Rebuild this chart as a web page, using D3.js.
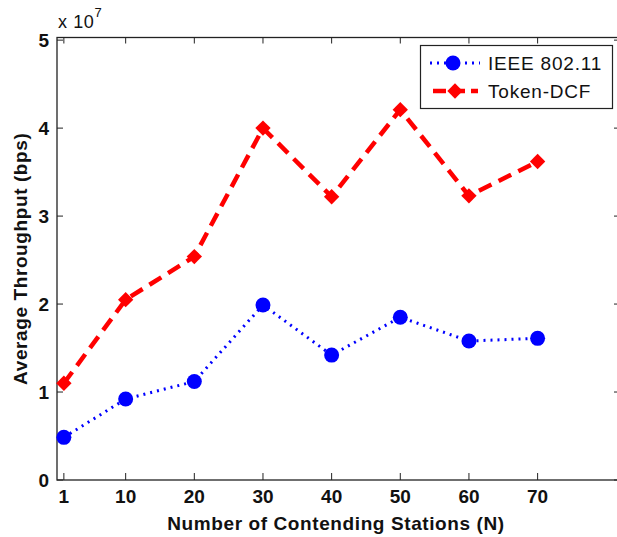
<!DOCTYPE html>
<html>
<head>
<meta charset="utf-8">
<script src="https://cdn.jsdelivr.net/npm/d3@7"></script>
<style>
  body { margin: 0; background: #fff; }
  text { font-family: "Liberation Sans", Arial, sans-serif; }
</style>
</head>
<body>
<script>
var stations = [1, 10, 20, 30, 40, 50, 60, 70];
var ieee = [0.485e7, 0.92e7, 1.12e7, 1.99e7, 1.42e7, 1.85e7, 1.58e7, 1.61e7];
var tokenDcf = [1.10e7, 2.05e7, 2.54e7, 4.00e7, 3.22e7, 4.21e7, 3.23e7, 3.62e7];
var xTicks = [1, 10, 20, 30, 40, 50, 60, 70];
var yTicks = [0, 1, 2, 3, 4, 5];

var width = 617, height = 537;
var box = {left: 57, right: 620, top: 37.5, bottom: 480};

var svg = d3.select("body").append("svg")
    .attr("width", width)
    .attr("height", height);

var x = d3.scaleLinear().domain([0, 82]).range([box.left, box.right]);
var y = d3.scaleLinear().domain([0, 5.03e7]).range([box.bottom, box.top]);

// box
svg.append("rect")
    .attr("x", box.left).attr("y", box.top)
    .attr("width", box.right - box.left).attr("height", box.bottom - box.top)
    .attr("fill", "none").attr("stroke", "#222").attr("stroke-width", 1.3);

// ticks (inward, mirrored)
xTicks.forEach(function(t) {
    svg.append("line").attr("x1", x(t)).attr("x2", x(t))
        .attr("y1", box.bottom).attr("y2", box.bottom - 7).attr("stroke", "#222");
    svg.append("line").attr("x1", x(t)).attr("x2", x(t))
        .attr("y1", box.top).attr("y2", box.top + 6).attr("stroke", "#222");
    svg.append("text").attr("x", x(t)).attr("y", 503)
        .attr("text-anchor", "middle").attr("font-size", 19).attr("font-weight", "bold")
        .attr("fill", "#111").text(t);
});
yTicks.forEach(function(t) {
    svg.append("line").attr("x1", box.left).attr("x2", box.left + 6)
        .attr("y1", y(t * 1e7)).attr("y2", y(t * 1e7)).attr("stroke", "#222");
    svg.append("line").attr("x1", box.right).attr("x2", box.right - 6)
        .attr("y1", y(t * 1e7)).attr("y2", y(t * 1e7)).attr("stroke", "#222");
    svg.append("text").attr("x", 49).attr("y", y(t * 1e7) + 7)
        .attr("text-anchor", "end").attr("font-size", 19).attr("font-weight", "bold")
        .attr("fill", "#111").text(t);
});

// exponent
var ex = svg.append("text").attr("x", 58).attr("y", 28)
    .attr("font-size", 18).attr("letter-spacing", 0.6).attr("fill", "#111");
ex.append("tspan").text("x 10");
ex.append("tspan").attr("dy", -11).attr("font-size", 13).text("7");

// axis labels
svg.append("text").attr("x", 336).attr("y", 530)
    .attr("text-anchor", "middle").attr("font-size", 19).attr("font-weight", "bold")
    .attr("letter-spacing", 0.6)
    .attr("fill", "#111").text("Number of Contending Stations (N)");
svg.append("text")
    .attr("transform", "translate(27," + ((box.top + box.bottom) / 2) + ") rotate(-90)")
    .attr("text-anchor", "middle").attr("font-size", 19).attr("font-weight", "bold")
    .attr("letter-spacing", 0.6)
    .attr("fill", "#111").text("Average Throughput (bps)");

var line = d3.line()
    .x(function(d) { return x(d[0]); })
    .y(function(d) { return y(d[1]); });

var blueData = d3.zip(stations, ieee);
var redData = d3.zip(stations, tokenDcf);

svg.append("path").datum(blueData).attr("d", line)
    .attr("fill", "none").attr("stroke", "#0000ff")
    .attr("stroke-width", 3).attr("stroke-dasharray", "2,5");
svg.selectAll(".dot").data(blueData).enter().append("circle")
    .attr("cx", function(d) { return x(d[0]); })
    .attr("cy", function(d) { return y(d[1]); })
    .attr("r", 7.5).attr("fill", "#0000ff");

svg.append("path").datum(redData).attr("d", line)
    .attr("fill", "none").attr("stroke", "#ff0000")
    .attr("stroke-width", 4.5).attr("stroke-dasharray", "14,8");
var diamond = d3.symbol().type(d3.symbolDiamond2).size(150);
svg.selectAll(".dia").data(redData).enter().append("path")
    .attr("d", diamond)
    .attr("transform", function(d) { return "translate(" + x(d[0]) + "," + y(d[1]) + ")"; })
    .attr("fill", "#ff0000");

// legend
var lg = svg.append("g");
lg.append("rect").attr("x", 420.5).attr("y", 45.5).attr("width", 192).attr("height", 63)
    .attr("fill", "#fff").attr("stroke", "#222").attr("stroke-width", 1.2);
lg.append("line").attr("x1", 430).attr("x2", 480).attr("y1", 63).attr("y2", 63)
    .attr("stroke", "#0000ff").attr("stroke-width", 3).attr("stroke-dasharray", "2,5");
lg.append("circle").attr("cx", 453).attr("cy", 63).attr("r", 7.5).attr("fill", "#0000ff");
lg.append("line").attr("x1", 433).attr("x2", 478).attr("y1", 91).attr("y2", 91)
    .attr("stroke", "#ff0000").attr("stroke-width", 4.5).attr("stroke-dasharray", "13,6");
lg.append("path").attr("d", diamond).attr("transform", "translate(455,91)").attr("fill", "#ff0000");
lg.append("text").attr("x", 488).attr("y", 70).attr("font-size", 19).attr("letter-spacing", 0.8)
    .attr("fill", "#111").text("IEEE 802.11");
lg.append("text").attr("x", 488).attr("y", 98).attr("font-size", 19).attr("letter-spacing", 0.8)
    .attr("fill", "#111").text("Token-DCF");
</script>
</body>
</html>
